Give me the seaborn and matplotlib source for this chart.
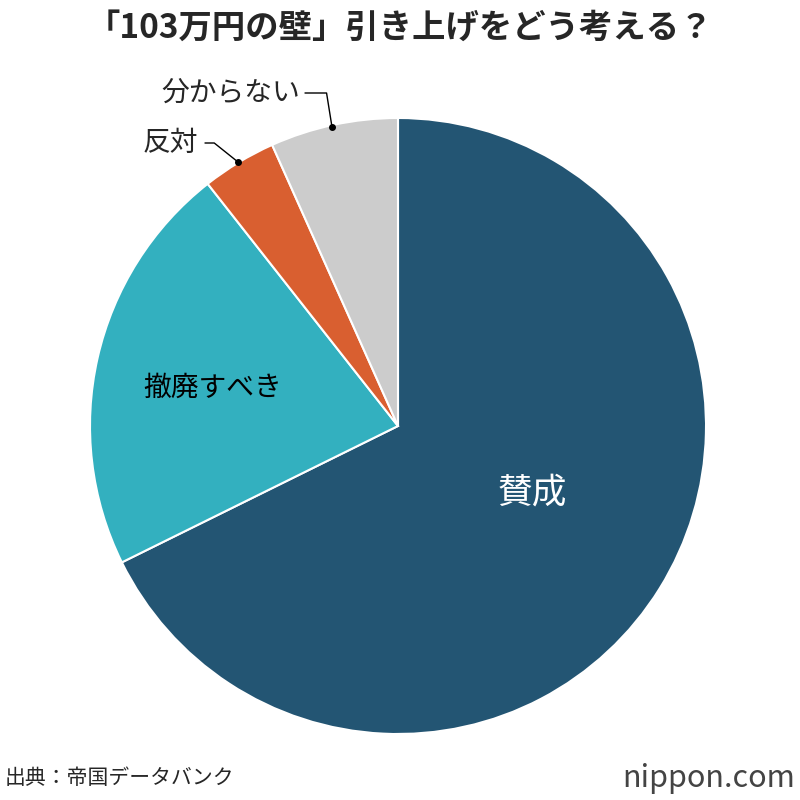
import matplotlib.pyplot as plt
import seaborn as sns

sns.set_theme(style="white")
plt.rcParams['font.family'] = ['Noto Sans CJK JP', 'DejaVu Sans']

labels = ['賛成', '撤廃すべき', '反対', '分からない']
shares = [67.7, 21.7, 3.9, 6.7]
colors = ['#235573', '#33b0bf', '#d95f30', '#cccccc']

fig = plt.figure(figsize=(8, 8), dpi=100)
cx, cy, r = 398 / 800, 1 - 426 / 800, 308 / 800
ax = fig.add_axes([cx - r, cy - r, 2 * r, 2 * r])
ax.pie(shares, colors=colors, startangle=90, counterclock=False, radius=1,
       wedgeprops=dict(edgecolor='white', linewidth=1.5))
ax.set_xlim(-1, 1)
ax.set_ylim(-1, 1)
ax.set_aspect('equal')
ax.axis('off')


def d(px, py):
    return ((px - 398) / 308, (426 - py) / 308)


ax.text(*d(532, 493), labels[0], color='white', fontsize=25, ha='center', va='center')
ax.text(*d(213, 388), labels[1], color='black', fontsize=20, ha='center', va='center')

# leader lines for small slices
x1, y1 = d(205, 143); x2, y2 = d(238, 162)
ax.plot([x1, x1 + 0.03, x2], [y1, y1, y2], color='black', lw=1, clip_on=False)
ax.plot([x2], [y2], 'o', color='black', ms=4, clip_on=False)
ax.text(*d(198, 143), labels[2], fontsize=20, ha='right', va='center')

x1, y1 = d(305, 93); x2, y2 = d(332, 127)
ax.plot([x1, x1 + 0.07, x2], [y1, y1, y2], color='black', lw=1, clip_on=False)
ax.plot([x2], [y2], 'o', color='black', ms=4, clip_on=False)
ax.text(*d(300, 93), labels[3], fontsize=20, ha='right', va='center')

fig.text(0.5, 1 - 28 / 800, '「103万円の壁」引き上げをどう考える？', fontsize=24,
         fontweight='bold', ha='center', va='center')
fig.text(5 / 800, 1 - 778 / 800, '出典：帝国データバンク', fontsize=15, ha='left', va='center')
fig.text(795 / 800, 1 - 778 / 800, 'nippon.com', fontsize=22, color='#444444',
         ha='right', va='center')

fig.savefig('out.png', dpi=100)
